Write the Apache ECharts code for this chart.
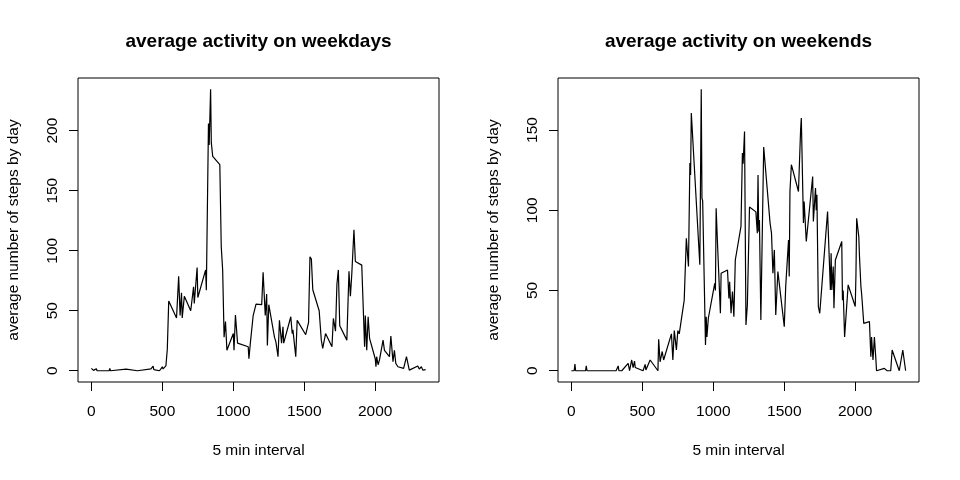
<!DOCTYPE html>
<html>
<head>
<meta charset="utf-8">
<script src="https://cdn.jsdelivr.net/npm/echarts@6/dist/echarts.min.js"></script>
<style>
html, body { margin: 0; padding: 0; background: #fff; }
#chart { width: 960px; height: 480px; }
</style>
</head>
<body>
<div id="chart"></div>
<script>
// average steps per 5 min interval (HHMM)
var weekdayInterval = [0,5,10,15,35,40,125,130,135,245,250,325,330,335,420,430,435,440,450,480,
    500,505,525,535,545,600,615,625,635,640,655,700,720,725,745,750,805,810,825,830,
    840,845,855,905,915,925,935,945,955,1000,1005,1015,1030,1040,1105,1110,1120,1140,1160,1200,
    1210,1225,1235,1240,1250,1290,1300,1315,1325,1340,1350,1355,1405,1415,1420,1440,1450,1510,1520,1530,
    1540,1550,1560,1605,1620,1630,1650,1695,1705,1720,1730,1740,1750,1800,1815,1825,1835,1850,1860,1905,
    1925,1930,1940,1950,1960,2000,2005,2010,2020,2030,2055,2065,2100,2110,2125,2135,2145,2160,2200,2220,
    2230,2240,2300,2310,2325,2335,2345,2355];
var weekdaySteps = [2,0.5,1.5,0.3,1.7,0,0,2,0,1.4,0,0,1,0,1.5,2,3.8,1,0.5,0,
    3.3,1.5,4,18,58,44,78.6,46,65,44,62,50,70,56,86,61,84,67,206,188,
    234.5,190,178.6,171.7,103.6,84,28,41,17,31,17,46.5,23,22,20,10,23,46,55.5,55,
    82,46,64,21,55,28,24,11.7,42,23,36.7,23,45,31,34,11.7,42,30,35,40,
    95,93,67.5,50,25.5,18.6,31,20,43.6,33,72,84,37.5,25.5,82.8,62,81,117.5,91,88,
    20,46,17,45,27,10,3.3,11.7,5,9,25.5,17,11.7,29,7.5,17,6,3.3,2,11.7,
    13,0.5,4,1.4,3.3,0.5,2,1];

var weekendInterval = [0,20,25,30,100,105,110,315,330,335,355,400,410,425,435,445,450,505,520,525,
    555,610,615,625,640,650,705,715,725,740,750,760,795,810,825,835,840,845,850,905,
    915,920,925,945,950,955,965,1010,1015,1020,1030,1050,1055,1100,1110,1115,1125,1135,1145,1155,
    1195,1205,1210,1220,1230,1240,1255,1300,1310,1315,1320,1325,1335,1355,1400,1410,1420,1430,1440,1455,
    1500,1510,1530,1535,1540,1550,1600,1615,1620,1635,1640,1655,1700,1705,1720,1725,1730,1740,1750,1805,
    1825,1830,1835,1845,1850,1860,1905,1910,1915,1925,1935,1950,2000,2005,2010,2025,2030,2040,2045,2060,
    2100,2110,2115,2125,2135,2145,2150,2205,2225,2250,2260,2310,2320,2335,2355];
var weekendSteps = [0,0,4.2,0,0,3,0,0,3,0,0,4.6,0,6.7,2,6,2,0,4,0.5,
    6.7,0,19.6,5.6,12,6.7,23,6.7,25,13,25,23,44,82.6,65,129.4,122,160.6,160,66,
    175.4,107.5,106,16,33.7,21,32.7,54.5,50,101.3,78.4,35.8,60.7,62.8,45,55.5,35.8,49.3,33.7,69,
    90,135.6,129,149,28.5,41,102,99,85.7,122,86.7,94,31.6,139.4,92,85.7,60.7,75.3,34.7,61.8,
    27.5,52.4,81.5,58.7,111.7,128.4,111.7,150,157.5,92,105.5,80.5,121,93,113.8,100,109.6,40,35.8,99.2,
    50.3,73.2,50.3,65,39,69,80.5,44,50,21,21,53.5,40,60,95,83.6,71,52.4,48,29.5,
    30.6,8.7,21,6.7,21,7.7,0,1.5,0,0,12.9,0,0,12.9,0];

var xTicks = [0, 500, 1000, 1500, 2000];
var weekdayTicks = [0, 50, 100, 150, 200];
var weekendTicks = [0, 50, 100, 150];

var FONT = 'Liberation Sans, Arial, Helvetica, sans-serif';

function pairs(xs, ys) {
    return xs.map(function (x, i) { return [x, ys[i]]; });
}

// base R pads the data range by 4% on each side
function padRange(vals) {
    var lo = Math.min.apply(null, vals), hi = Math.max.apply(null, vals);
    var d = (hi - lo) * 0.04;
    return [lo - d, hi + d];
}

function plain(v) { return String(v); }

function xAxisFor(gi, xs) {
    var r = padRange(xs);
    return {
        type: 'value', gridIndex: gi, min: r[0], max: r[1],
        name: '5 min interval', nameLocation: 'middle', nameGap: 61,
        nameTextStyle: { fontFamily: FONT, fontSize: 15.5, color: '#000' },
        axisLine: { show: false, onZero: false },
        axisTick: { show: true, inside: false, length: 9, customValues: xTicks, lineStyle: { color: '#000' } },
        axisLabel: { customValues: xTicks, formatter: plain, margin: 22, fontFamily: FONT, fontSize: 15.5, color: '#000' },
        splitLine: { show: false }
    };
}

function yAxisFor(gi, ys, ticks) {
    var r = padRange(ys);
    return {
        type: 'value', gridIndex: gi, min: r[0], max: r[1],
        name: 'average number of steps by day', nameLocation: 'middle', nameGap: 56, nameRotate: 90,
        nameTextStyle: { fontFamily: FONT, fontSize: 15.5, color: '#000' },
        axisLine: { show: false, onZero: false },
        axisTick: { show: true, inside: false, length: 9, customValues: ticks, lineStyle: { color: '#000' } },
        axisLabel: { customValues: ticks, formatter: plain, rotate: 90, margin: 17, fontFamily: FONT, fontSize: 15.5, color: '#000' },
        splitLine: { show: false }
    };
}

var chart = echarts.init(document.getElementById('chart'));

chart.setOption({
    backgroundColor: '#fff',
    animation: false,
    graphic: [
        { type: 'text', x: 258.5, y: 42, style: { text: 'average activity on weekdays', align: 'center', verticalAlign: 'middle', font: 'bold 19px ' + FONT, fill: '#000' } },
        { type: 'text', x: 738.5, y: 42, style: { text: 'average activity on weekends', align: 'center', verticalAlign: 'middle', font: 'bold 19px ' + FONT, fill: '#000' } }
    ],
    grid: [
        { left: 78, top: 78, width: 361, height: 304, show: true, borderColor: '#000', borderWidth: 1, backgroundColor: 'transparent' },
        { left: 558, top: 78, width: 361, height: 304, show: true, borderColor: '#000', borderWidth: 1, backgroundColor: 'transparent' }
    ],
    xAxis: [xAxisFor(0, weekdayInterval), xAxisFor(1, weekendInterval)],
    yAxis: [yAxisFor(0, weekdaySteps, weekdayTicks), yAxisFor(1, weekendSteps, weekendTicks)],
    series: [
        {
            type: 'line', xAxisIndex: 0, yAxisIndex: 0,
            data: pairs(weekdayInterval, weekdaySteps),
            showSymbol: false, lineStyle: { color: '#000', width: 1.2 }
        },
        {
            type: 'line', xAxisIndex: 1, yAxisIndex: 1,
            data: pairs(weekendInterval, weekendSteps),
            showSymbol: false, lineStyle: { color: '#000', width: 1.2 }
        }
    ]
});
</script>
</body>
</html>
